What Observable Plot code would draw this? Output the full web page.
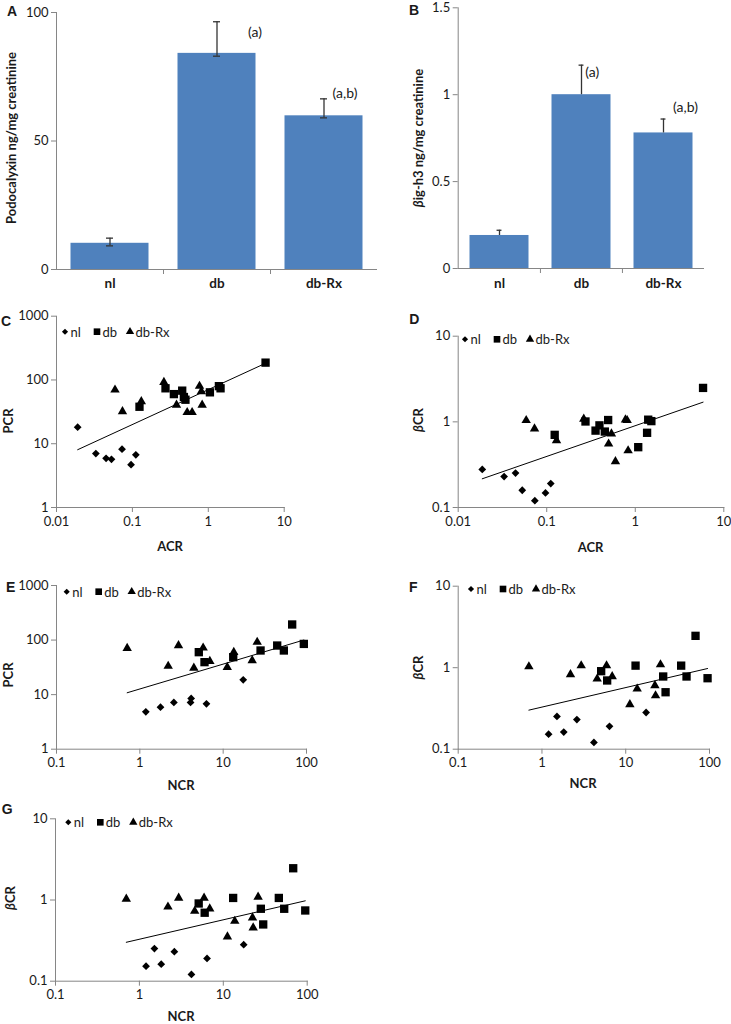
<!DOCTYPE html>
<html><head><meta charset="utf-8">
<script src="https://cdn.jsdelivr.net/npm/d3@7"></script>
<script src="https://cdn.jsdelivr.net/npm/@observablehq/plot@0.6"></script>
<style>
html,body{margin:0;padding:0;background:#fff;}
#fig{position:relative;width:731px;height:1024px;overflow:hidden;background:#fff;}
.panel{position:absolute;}
.panel svg{overflow:visible;display:block;}
.panel [aria-label*="axis"] text{fill:#1a1a1a;font-size:13px;font-family:Lato,"Liberation Sans",sans-serif;}
</style></head><body><div id="fig"></div>
<script>
// ---------- data ----------
const categories = ["nl", "db", "db-Rx"];
// Panel A: podocalyxin
const podoMean = [10.2, 84.1, 59.8];
const podoLow = [9.2, 83.0, 59.0];
const podoHigh = [12.2, 96.4, 66.4];
const podoNotes = ["", "(a)", "(a,b)"];
const podoTicks = [0, 50, 100];
// Panel B: beta ig-h3
const betaMean = [0.19, 1.0, 0.78];
const betaHigh = [0.22, 1.17, 0.86];
const betaNotes = ["", "(a)", "(a,b)"];
const betaTicks = [0, 0.5, 1, 1.5];
// Panel C: ACR vs PCR
const cNlX = [0.019, 0.033, 0.045, 0.053, 0.073, 0.096, 0.111];
const cNlY = [18.2, 7.0, 5.9, 5.7, 8.2, 4.7, 6.7];
const cDbX = [0.124, 0.273, 0.352, 0.453, 0.477, 0.50, 1.05, 1.38, 1.45, 5.68];
const cDbY = [38, 74, 60, 68, 54, 49, 64, 80, 74, 187];
const cRxX = [0.059, 0.074, 0.131, 0.26, 0.381, 0.527, 0.612, 0.766, 0.81, 0.83];
const cRxY = [70, 32, 46, 92, 40.6, 31, 31, 80, 66, 40.6];
// Panel D: ACR vs beta CR
const dNlX = [0.0187, 0.033, 0.0444, 0.0529, 0.0734, 0.0968, 0.111];
const dNlY = [0.278, 0.230, 0.252, 0.159, 0.120, 0.148, 0.190];
const dDbX = [0.123, 0.274, 0.356, 0.394, 0.453, 0.494, 1.08, 1.36, 1.40, 1.52, 5.83];
const dDbY = [0.705, 1.01, 0.79, 0.91, 0.77, 1.05, 0.506, 0.745, 1.06, 1.02, 2.49];
const dRxX = [0.0586, 0.0728, 0.129, 0.262, 0.50, 0.538, 0.597, 0.775, 0.81, 0.83];
const dRxY = [1.04, 0.83, 0.605, 1.08, 0.553, 0.725, 0.344, 1.06, 1.04, 0.462];
// Panel E: NCR vs PCR
const eNlX = [1.18, 1.77, 2.56, 4.06, 4.13, 6.3, 17.4];
const eNlY = [4.84, 5.9, 7.2, 7.2, 8.5, 6.8, 18.7];
const eDbX = [5.1, 5.97, 13.2, 28.1, 44.5, 53.5, 67.3, 92.9];
const eDbY = [60, 39.4, 48.6, 64.4, 79.4, 64.4, 193, 85];
const eRxX = [0.705, 2.19, 2.91, 4.45, 5.75, 6.92, 11.2, 13.4, 22.3, 25.6];
const eRxY = [71, 33.3, 79.4, 30.8, 72, 41, 31.8, 60, 42.3, 91.6];
// Panels F and G: NCR vs beta CR
const fNlX = [1.20, 1.51, 1.82, 2.61, 4.17, 6.4, 17.5];
const fNlY = [0.153, 0.252, 0.162, 0.231, 0.121, 0.191, 0.282];
const fDbX = [5.09, 6.0, 13.1, 28.0, 29.9, 45.9, 53.2, 68.1, 94.8];
const fDbY = [0.906, 0.697, 1.06, 0.78, 0.50, 1.06, 0.78, 2.46, 0.743];
const fRxX = [0.698, 2.19, 2.94, 4.56, 5.9, 6.89, 11.2, 13.7, 22.3, 22.7, 26.0];
const fRxY = [1.03, 0.824, 1.06, 0.73, 1.06, 0.78, 0.353, 0.55, 0.604, 0.455, 1.09];
const acrTicks = [0.01, 0.1, 1, 10];
const ncrTicks = [0.1, 1, 10, 100];
const pcrTicks = [1, 10, 100, 1000];
const bcrTicks = [0.1, 1, 10];

// ---------- styles ----------
const FONT = 'Lato, "Liberation Sans", sans-serif';
const LETTERFONT = '"Liberation Sans", Arial, sans-serif';
const BLUE = "#4f81bd";
const AXIS = "#868686";
const INK = "#1a1a1a";
const fig = document.getElementById("fig");

function mount(svg, left, top) {
  const d = document.createElement("div");
  d.className = "panel";
  d.style.left = left + "px";
  d.style.top = top + "px";
  d.appendChild(svg);
  fig.appendChild(d);
}
function addText(svg, x, y, parts, opts = {}) {
  const t = d3.select(svg).append("text")
    .attr("transform", `translate(${x},${y})` + (opts.rotate ? ` rotate(${opts.rotate})` : ""))
    .attr("text-anchor", opts.anchor || "middle")
    .attr("dominant-baseline", "central")
    .attr("style", `font-family:${opts.family || FONT};font-size:${opts.size || 12}px;font-weight:${opts.weight || "bold"};fill:${INK}`);
  for (const p of parts) {
    const s = t.append("tspan").text(p.text);
    if (p.italic) s.attr("style", "font-style:italic");
  }
}
function addLegend(svg, x, y) {
  const g = d3.select(svg).append("g").attr("transform", `translate(${x},${y})`);
  const items = [
    {type: d3.symbolDiamond2, size: 24, label: categories[0], off: 0},
    {type: d3.symbolSquare, size: 44, label: categories[1], off: 32},
    {type: d3.symbolTriangle, size: 30, label: categories[2], off: 65}
  ];
  for (const it of items) {
    g.append("path").attr("d", d3.symbol(it.type, it.size)()).attr("transform", `translate(${it.off},0)`).attr("fill", "#000");
    g.append("text").attr("x", it.off + 5.5).attr("y", 0)
      .attr("text-anchor", "start").attr("dominant-baseline", "central")
      .attr("style", `font-family:${FONT};font-size:13px;fill:${INK}`).text(it.label);
  }
}

// ---------- bar panels ----------
function barPanel(cfg) {
  const rows = categories.map((c, i) => ({cat: c, v: cfg.mean[i], lo: cfg.low[i], hi: cfg.high[i], note: cfg.notes[i]}));
  const noted = rows.filter(r => r.note);
  const bw = (cfg.W - cfg.ml - cfg.mr) / categories.length;
  const capIn = (bw - cfg.cap) / 2;
  const svg = Plot.plot({
    width: cfg.W, height: cfg.H,
    marginLeft: cfg.ml, marginRight: cfg.mr, marginTop: cfg.mt, marginBottom: cfg.mb,
    style: {background: "transparent", color: AXIS, fontFamily: FONT, fontSize: "13px", overflow: "visible"},
    x: {domain: categories, padding: 0, axis: null},
    y: {domain: [cfg.ticks[0], cfg.ticks[cfg.ticks.length - 1]], ticks: cfg.ticks, tickSize: 5, tickPadding: 3,
        tickFormat: d => String(d), line: true, label: null},
    marks: [
      Plot.barY(rows, {x: "cat", y: "v", fill: BLUE, insetLeft: cfg.barInset, insetRight: cfg.barInset}),
      Plot.ruleX(rows, {x: "cat", y1: "lo", y2: "hi", stroke: "#333", strokeWidth: 1.3}),
      Plot.tickY(rows, {x: "cat", y: "hi", stroke: "#333", strokeWidth: 1.3, insetLeft: capIn, insetRight: capIn}),
      cfg.lowCaps ? Plot.tickY(rows, {x: "cat", y: "lo", stroke: "#333", strokeWidth: 1.3, insetLeft: capIn, insetRight: capIn}) : null,
      Plot.ruleY([0], {stroke: AXIS}),
      Plot.ruleX(categories.slice(1), {x: d => d, y1: () => 0, y2: () => 0, insetBottom: -5, dx: -bw / 2, stroke: AXIS}),
      Plot.text(rows, {x: "cat", frameAnchor: "bottom", dy: cfg.catDy, text: "cat", fill: INK, fontWeight: "bold", fontSize: 13.5}),
      ...noted.map((r, k) => Plot.text([r], {x: "cat", y: "hi", text: "note", fill: INK, fontSize: 14,
        textAnchor: "middle", dx: cfg.noteOff[k][0], dy: cfg.noteOff[k][1]}))
    ]
  });
  mount(svg, cfg.left, cfg.top);
  addText(svg, cfg.letter[0], cfg.letter[1], [{text: cfg.letterText}], {family: LETTERFONT, size: 14});
  addText(svg, cfg.ylab[0], cfg.ylab[1], cfg.ylabParts, {rotate: -90, size: 13});
  return svg;
}

barPanel({
  left: 0, top: 0, W: 380, H: 300, ml: 56, mr: 3, mt: 12, mb: 31,
  mean: podoMean, low: podoLow, high: podoHigh, notes: podoNotes, ticks: podoTicks,
  barInset: 14.5, cap: 7, lowCaps: true, catDy: 18,
  letter: [12, 11], letterText: "A", ylab: [11, 138],
  ylabParts: [{text: "Podocalyxin ng/mg creatinine"}],
  noteOff: [[38, 10.5], [21, -5.4]]
});
barPanel({
  left: 365, top: 0, W: 366, H: 300, ml: 92.7, mr: 27, mt: 7.3, mb: 32,
  mean: betaMean, low: betaMean, high: betaHigh, notes: betaNotes, ticks: betaTicks,
  barInset: 11.5, cap: 5, lowCaps: false, catDy: 19,
  letter: [49, 10], letterText: "B", ylab: [53, 138],
  ylabParts: [{text: "β", italic: true}, {text: "ig-h3 ng/mg creatinine"}],
  noteOff: [[10.8, 7], [22, -11.5]]
});

// ---------- scatter panels ----------
function scatterPanel(cfg) {
  const series = [
    {x: cfg.nlX, y: cfg.nlY, symbol: d3.symbolDiamond2, r: 3.5},
    {x: cfg.dbX, y: cfg.dbY, symbol: d3.symbolSquare, r: 4.7},
    {x: cfg.rxX, y: cfg.rxY, symbol: d3.symbolTriangle, r: 3.5}
  ].map(s => ({...s, rows: s.x.map((x, i) => ({x, y: s.y[i]}))}));
  const all = series.flatMap(s => s.rows);
  const lx = all.map(d => Math.log10(d.x)), ly = all.map(d => Math.log10(d.y));
  const mx = d3.mean(lx), my = d3.mean(ly);
  const slope = d3.sum(lx, (v, i) => (v - mx) * (ly[i] - my)) / d3.sum(lx, v => (v - mx) ** 2);
  const icpt = my - slope * mx;
  const fit = d3.extent(all, d => d.x).map(x => ({x, y: 10 ** (icpt + slope * Math.log10(x))}));
  const svg = Plot.plot({
    width: cfg.W, height: cfg.H,
    marginLeft: cfg.ml, marginRight: cfg.mr, marginTop: cfg.mt, marginBottom: cfg.mb,
    style: {background: "transparent", color: AXIS, fontFamily: FONT, fontSize: "13px", overflow: "visible"},
    x: {type: "log", domain: [cfg.xTicks[0], cfg.xTicks[cfg.xTicks.length - 1]], ticks: cfg.xTicks,
        tickFormat: d => String(d), tickSize: 5, tickPadding: 4, line: true, label: null},
    y: {type: "log", domain: [cfg.yTicks[0], cfg.yTicks[cfg.yTicks.length - 1]], ticks: cfg.yTicks,
        tickFormat: d => String(d), tickSize: 5, tickPadding: 3, line: true, label: null},
    marks: [
      ...series.map(s => Plot.dot(s.rows, {x: "x", y: "y", symbol: s.symbol, r: s.r, fill: "#000", stroke: "none"})),
      Plot.line(fit, {x: "x", y: "y", stroke: "#000", strokeWidth: 1})
    ]
  });
  mount(svg, cfg.left, cfg.top);
  addText(svg, cfg.letter[0], cfg.letter[1], [{text: cfg.letterText}], {family: LETTERFONT, size: 14});
  addText(svg, cfg.ylab[0], cfg.ylab[1], cfg.ylabParts, {rotate: -90, size: 13});
  addText(svg, cfg.xlab[0], cfg.xlab[1], [{text: cfg.xlabText}], {size: 13});
  addLegend(svg, cfg.legend[0], cfg.legend[1]);
  return svg;
}

const betaCR = [{text: "β", italic: true}, {text: "CR"}];
scatterPanel({
  left: 0, top: 300, W: 365, H: 250, ml: 56, mr: 81.3, mt: 15.7, mb: 43,
  nlX: cNlX, nlY: cNlY, dbX: cDbX, dbY: cDbY, rxX: cRxX, rxY: cRxY,
  xTicks: acrTicks, yTicks: pcrTicks,
  letter: [6, 21], letterText: "C", ylab: [8, 121], ylabParts: [{text: "PCR"}],
  xlab: [170, 245.7], xlabText: "ACR", legend: [65, 31.7]
});
scatterPanel({
  left: 365, top: 300, W: 366, H: 250, ml: 92.7, mr: 7.7, mt: 35.7, mb: 43,
  nlX: dNlX, nlY: dNlY, dbX: dDbX, dbY: dDbY, rxX: dRxX, rxY: dRxY,
  xTicks: acrTicks, yTicks: bcrTicks,
  letter: [49.3, 19.3], letterText: "D", ylab: [53.3, 120], ylabParts: betaCR,
  xlab: [225.5, 246.7], xlabText: "ACR", legend: [100, 39.3]
});
scatterPanel({
  left: 0, top: 550, W: 365, H: 240, ml: 56, mr: 59, mt: 35, mb: 41.3,
  nlX: eNlX, nlY: eNlY, dbX: eDbX, dbY: eDbY, rxX: eRxX, rxY: eRxY,
  xTicks: ncrTicks, yTicks: pcrTicks,
  letter: [10.7, 36.7], letterText: "E", ylab: [8, 125], ylabParts: [{text: "PCR"}],
  xlab: [181, 235], xlabText: "NCR", legend: [66.7, 41.7]
});
scatterPanel({
  left: 365, top: 550, W: 366, H: 240, ml: 92.7, mr: 22, mt: 35.7, mb: 41.3,
  nlX: fNlX, nlY: fNlY, dbX: fDbX, dbY: fDbY, rxX: fRxX, rxY: fRxY,
  xTicks: ncrTicks, yTicks: bcrTicks,
  letter: [48.3, 36.7], letterText: "F", ylab: [53.3, 117.5], ylabParts: betaCR,
  xlab: [218, 233.3], xlabText: "NCR", legend: [106, 39]
});
scatterPanel({
  left: 0, top: 790, W: 365, H: 234, ml: 55, mr: 58.3, mt: 28.3, mb: 43.3,
  nlX: fNlX, nlY: fNlY, dbX: fDbX, dbY: fDbY, rxX: fRxX, rxY: fRxY,
  xTicks: ncrTicks, yTicks: bcrTicks,
  letter: [7.3, 19.3], letterText: "G", ylab: [10, 108], ylabParts: betaCR,
  xlab: [181, 226], xlabText: "NCR", legend: [68.3, 32.3]
});
</script></body></html>
